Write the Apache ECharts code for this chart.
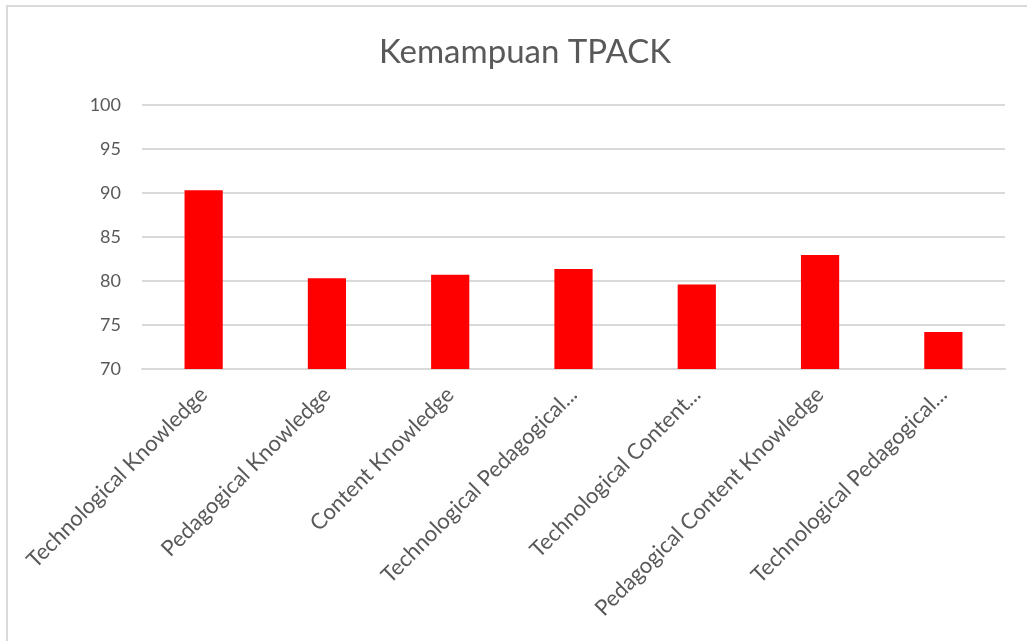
<!DOCTYPE html>
<html>
<head>
<meta charset="utf-8">
<script src="https://cdn.jsdelivr.net/npm/echarts@6/dist/echarts.min.js"></script>
<style>
html,body{margin:0;padding:0;background:#fff;}
#chart{width:1027px;height:641px;}
</style>
</head>
<body>
<div id="chart"></div>
<script>
const title = 'Kemampuan TPACK';
const categories = [
  'Technological Knowledge',
  'Pedagogical Knowledge',
  'Content Knowledge',
  'Technological Pedagogical Knowledge',
  'Technological Content Knowledge',
  'Pedagogical Content Knowledge',
  'Technological Pedagogical Content Knowledge'
];
const values = [90.3, 80.3, 80.7, 81.35, 79.6, 82.95, 74.2];
const yMin = 70, yMax = 100, yStep = 5;

// Excel-style word-level truncation of long category labels
function shorten(s) {
  const maxLen = 29;
  if (s.length <= maxLen) return s;
  const words = s.split(' ');
  let acc = '';
  for (const w of words) {
    const next = acc ? acc + ' ' + w : w;
    if (next.length + 3 > maxLen) break;
    acc = next;
  }
  return acc + '...';
}

const FONT = 'Lato';
const chart = echarts.init(document.getElementById('chart'));
chart.setOption({
  animation: false,
  backgroundColor: '#ffffff',
  graphic: [{
    type: 'rect',
    shape: { x: 7, y: 6, width: 1040, height: 660 },
    style: { fill: 'none', stroke: '#d9d9d9', lineWidth: 2 },
    silent: true
  }],
  title: {
    text: title,
    left: 520,
    top: 31,
    textAlign: 'center',
    textStyle: { fontFamily: FONT, fontSize: 33, fontWeight: 'normal', color: '#595959' }
  },
  grid: { left: 142, right: 22, top: 105, bottom: 272, containLabel: false },
  xAxis: {
    type: 'category',
    data: categories,
    axisLine: { show: true, lineStyle: { color: '#d9d9d9', width: 2 } },
    axisTick: { show: false },
    axisLabel: {
      rotate: 45,
      interval: 0,
      margin: 22,
      fontFamily: FONT,
      fontSize: 22,
      color: '#595959',
      formatter: shorten
    }
  },
  yAxis: {
    type: 'value',
    min: yMin,
    max: yMax,
    interval: yStep,
    axisLine: { show: false },
    axisTick: { show: false },
    splitLine: { lineStyle: { color: '#d9d9d9', width: 2 } },
    axisLabel: { margin: 21, fontFamily: FONT, fontSize: 18, color: '#595959' }
  },
  series: [{
    type: 'bar',
    data: values,
    barWidth: '31%',
    itemStyle: { color: '#ff0000' }
  }]
});
</script>
</body>
</html>
